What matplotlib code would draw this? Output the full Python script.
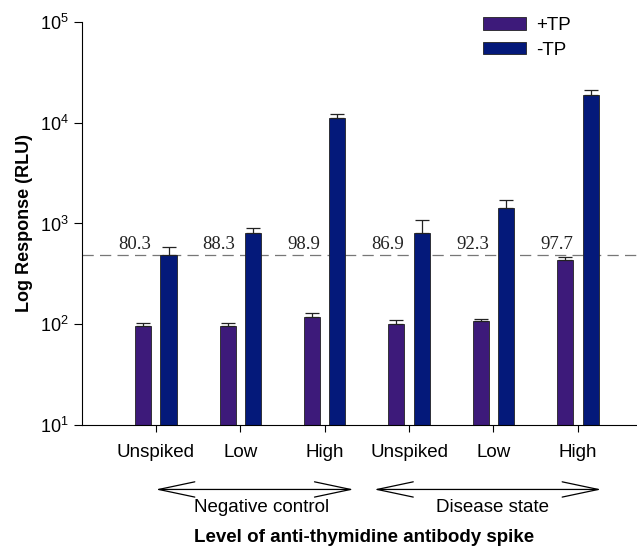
import matplotlib
matplotlib.use("Agg")
import matplotlib.pyplot as plt
import numpy as np

plt.rcParams['font.family'] = ['Liberation Sans', 'DejaVu Sans']
plt.rcParams['mathtext.fontset'] = 'custom'
plt.rcParams['mathtext.rm'] = 'Liberation Sans'

# данные
levels = ['Unspiked', 'Low', 'High', 'Unspiked', 'Low', 'High']
plus_tp = [96, 96, 118, 100, 108, 435]
plus_tp_err = [7, 8, 10, 9, 4, 27]
minus_tp = [487, 800, 11070, 811, 1435, 19000]
minus_tp_err = [93, 108, 1130, 274, 287, 2300]
pct = ['80.3', '88.3', '98.9', '86.9', '92.3', '97.7']
cutoff = 490

purple = '#3d1a7a'
navy = '#04197a'
fs = 13.5

fig = plt.figure(figsize=(6.37, 5.48), dpi=100)
ax = fig.add_axes([0.1287, 0.2245, 0.8713, 0.7354])

x = np.arange(len(levels))
w = 0.19; d = 0.15
ekw = dict(ecolor='#222222', elinewidth=0.9, capsize=5, capthick=0.9)
ax.bar(x - d, plus_tp, w, color=purple, edgecolor='#222222', linewidth=0.6, label='+TP',
       yerr=[np.zeros(len(x)), plus_tp_err], error_kw=ekw)
ax.bar(x + d, minus_tp, w, color=navy, edgecolor='#222222', linewidth=0.6, label='-TP',
       yerr=[np.zeros(len(x)), minus_tp_err], error_kw=ekw)

ax.axhline(cutoff, color='#777777', lw=0.9, ls=(0, (9, 5)), zorder=0.5)
for i, t in enumerate(pct):
    ax.text(x[i] - 0.25, cutoff * 1.04, t, ha='center', va='bottom', fontsize=fs,
            family='Liberation Serif', color='#222222')

ax.set_yscale('log')
ax.set_ylim(10, 1e5)
ax.set_xlim(-0.875, 5.7)
ax.yaxis.set_minor_locator(matplotlib.ticker.NullLocator())
ax.set_xticks(x)
ax.set_xticklabels(levels, fontsize=fs)
ax.tick_params(axis='x', direction='out', length=5, pad=9)
ax.tick_params(axis='y', direction='out', length=6, labelsize=13)
ax.spines['top'].set_visible(False)
ax.spines['right'].set_visible(False)
ax.set_ylabel('Log Response (RLU)', fontsize=13, fontweight='bold', labelpad=5)

ax.legend(loc='upper left', bbox_to_anchor=(0.7225, 1.012), frameon=False, fontsize=fs,
          borderpad=0, borderaxespad=0, handlelength=2.3, handleheight=0.64,
          handletextpad=0.55, labelspacing=0.4)

arr = dict(arrowstyle='<->, head_length=2.6, head_width=0.55', color='black', lw=0.9)
xt = ax.get_xaxis_transform()
ax.annotate('', xy=(-0.035, -0.16), xytext=(2.376, -0.16), xycoords=xt, textcoords=xt, arrowprops=arr, annotation_clip=False)
ax.annotate('', xy=(2.553, -0.16), xytext=(5.31, -0.16), xycoords=xt, textcoords=xt, arrowprops=arr, annotation_clip=False)
ax.text(1.256, -0.205, 'Negative control', transform=xt, ha='center', va='center', fontsize=fs)
ax.text(3.99, -0.205, 'Disease state', transform=xt, ha='center', va='center', fontsize=fs)
fig.text(0.572, 1 - 538 / 548, 'Level of anti-thymidine antibody spike', ha='center', va='center',
         fontsize=fs, fontweight='bold')

fig.savefig('out.png', dpi=100)
